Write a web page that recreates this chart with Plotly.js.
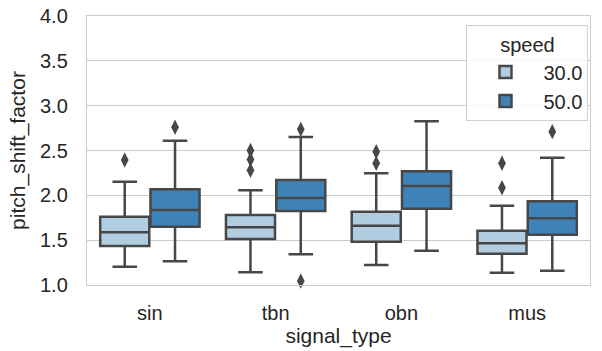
<!DOCTYPE html>
<html>
<head>
<meta charset="utf-8">
<script src="https://cdn.plot.ly/plotly-3.0.1.min.js"></script>
<style>html,body{margin:0;padding:0;background:#fff;}#chart{width:602px;height:351px;}</style>
</head>
<body>
<div id="chart"></div>
<script>
var categories = ["sin", "tbn", "obn", "mus"];
var hueLabels = ["30.0", "50.0"];

// speed 30.0
var q1_30 = [1.435, 1.513, 1.483, 1.349];
var med_30 = [1.588, 1.643, 1.662, 1.465];
var q3_30 = [1.762, 1.781, 1.818, 1.606];
var lo_30 = [1.204, 1.141, 1.223, 1.138];
var hi_30 = [2.152, 2.056, 2.246, 1.885];
var out_30 = [[2.394], [2.50, 2.40, 2.28], [2.487, 2.357], [2.357, 2.085]];

// speed 50.0
var q1_50 = [1.650, 1.825, 1.851, 1.561];
var med_50 = [1.836, 1.970, 2.104, 1.744];
var q3_50 = [2.067, 2.171, 2.268, 1.933];
var lo_50 = [1.264, 1.342, 1.383, 1.160];
var hi_50 = [2.610, 2.651, 2.826, 2.420];
var out_50 = [[2.759], [2.736, 1.045], [], [2.710]];

var colors = ["#b0cde2", "#3f82b7"];
var lineColor = "#474747";
var offsets = [-0.2, 0.2];
var boxW = 0.39;

var stats = [
  {q1: q1_30, med: med_30, q3: q3_30, lo: lo_30, hi: hi_30, out: out_30},
  {q1: q1_50, med: med_50, q3: q3_50, lo: lo_50, hi: hi_50, out: out_50}
];

var traces = [];
stats.forEach(function (s, h) {
  var xs = categories.map(function (c, i) { return i + offsets[h]; });
  traces.push({
    type: "box",
    name: hueLabels[h],
    x: xs,
    q1: s.q1, median: s.med, q3: s.q3,
    lowerfence: s.lo, upperfence: s.hi,
    width: boxW,
    whiskerwidth: 0.5,
    boxpoints: false,
    fillcolor: colors[h],
    line: {color: lineColor, width: 2.5},
    hoverinfo: "skip",
    showlegend: true
  });
  var ox = [], oy = [];
  s.out.forEach(function (arr, i) {
    arr.forEach(function (v) { ox.push(i + offsets[h]); oy.push(v); });
  });
  traces.push({
    type: "scatter", mode: "markers",
    x: ox, y: oy,
    marker: {symbol: "diamond-tall", size: 11, color: lineColor},
    hoverinfo: "skip",
    showlegend: false,
    cliponaxis: false
  });
});

var font = "Liberation Sans, Arial, sans-serif";
var txt = "#262626";
var layout = {
  width: 602, height: 351,
  margin: {l: 87, r: 12, t: 16, b: 66},
  paper_bgcolor: "#ffffff",
  plot_bgcolor: "#ffffff",
  font: {family: font, size: 20, color: txt},
  showlegend: true,
  boxmode: "overlay",
  xaxis: {
    range: [-0.5, 3.5],
    tickmode: "array",
    tickvals: categories.map(function (c, i) { return i; }),
    ticktext: categories,
    showgrid: false,
    zeroline: false,
    showline: true, mirror: true, linecolor: "#cccccc", linewidth: 1.2,
    ticks: "", ticklabelstandoff: 10,
    tickfont: {size: 20, color: txt},
    title: {text: "signal_type", font: {size: 21, color: txt}, standoff: 2}
  },
  yaxis: {
    range: [1, 4],
    tickmode: "array",
    tickvals: [1.0, 1.5, 2.0, 2.5, 3.0, 3.5, 4.0],
    ticktext: ["1.0", "1.5", "2.0", "2.5", "3.0", "3.5", "4.0"],
    showgrid: true, gridcolor: "#cccccc", gridwidth: 1.2,
    zeroline: false,
    showline: true, mirror: true, linecolor: "#cccccc", linewidth: 1.2,
    ticks: "", ticklabelstandoff: 14,
    tickfont: {size: 20, color: txt},
    title: {text: "pitch_shift_factor", font: {size: 21, color: txt}, standoff: 8}
  },
  legend: {
    x: 0.997, xanchor: "right",
    y: 0.965, yanchor: "top",
    bgcolor: "rgba(255,255,255,0.85)",
    bordercolor: "#d0d0d0", borderwidth: 1,
    font: {size: 20, color: txt},
    title: {text: "speed", side: "top center", font: {size: 20, color: txt}},
    itemwidth: 66,
    tracegroupgap: 0
  }
};

Plotly.newPlot("chart", traces, layout, {staticPlot: true, displayModeBar: false});
</script>
</body>
</html>
